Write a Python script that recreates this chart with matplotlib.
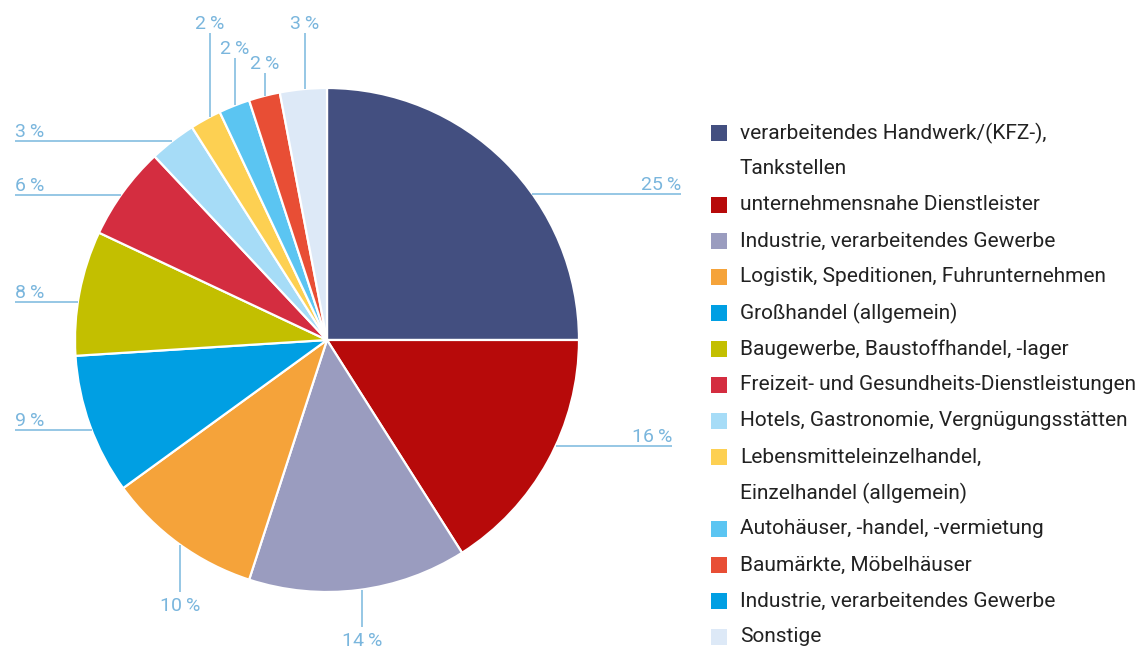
import matplotlib
matplotlib.use("Agg")
import matplotlib.pyplot as plt
from matplotlib.patches import Rectangle
import numpy as np

# ---------------- data ----------------
slice_values = [25, 16, 14, 10, 9, 8, 6, 3, 2, 2, 2, 3]
slice_colors = ["#434f80", "#b70a0a", "#9a9cbf", "#f5a33a", "#009fe3", "#c3bf00",
                "#d42d40", "#a6dcf7", "#fdd052", "#5bc5f2", "#e84e35", "#dde9f7"]
pct_labels = [f"{v}\u2009%" for v in slice_values]

legend_labels = [
    "verarbeitendes Handwerk/(KFZ-),\nTankstellen",
    "unternehmensnahe Dienstleister",
    "Industrie, verarbeitendes Gewerbe",
    "Logistik, Speditionen, Fuhrunternehmen",
    "Großhandel (allgemein)",
    "Baugewerbe, Baustoffhandel, -lager",
    "Freizeit- und Gesundheits-Dienstleistungen",
    "Hotels, Gastronomie, Vergnügungsstätten",
    "Lebensmitteleinzelhandel,\nEinzelhandel (allgemein)",
    "Autohäuser, -handel, -vermietung",
    "Baumärkte, Möbelhäuser",
    "Industrie, verarbeitendes Gewerbe",
    "Sonstige",
]
legend_colors = ["#434f80", "#b70a0a", "#9a9cbf", "#f5a33a", "#009fe3", "#c3bf00",
                 "#d42d40", "#a6dcf7", "#fdd052", "#5bc5f2", "#e84e35", "#009fe3", "#dde9f7"]

# label leader layout (pixel coords, y from top):
# ('h', line_y, outer_x) horizontal line; ('v', line_x, outer_y) vertical line
label_layout = [("h", 194, 681), ("h", 446, 672), ("v", 362, 627), ("v", 180, 592),
                ("h", 430, 15), ("h", 302, 15), ("h", 195, 15), ("h", 141, 15),
                ("v", 210, 33), ("v", 235, 58), ("v", 265, 73), ("v", 305, 33)]

# ---------------- figure ----------------
W, H = 1137, 648
fig = plt.figure(figsize=(W / 100, H / 100), dpi=100)
ax = fig.add_axes([0, 0, 1, 1])
plt.rcParams["font.family"] = ["Roboto", "DejaVu Sans"]

cx, cy, R = 327, 340, 252


def fy(y):
    return H - y


ax.pie(slice_values, colors=slice_colors, startangle=90, counterclock=False,
       center=(cx, fy(cy)), radius=R,
       wedgeprops=dict(edgecolor="white", linewidth=1.6, antialiased=True))
ax.set_aspect("auto")
ax.set_xlim(0, W)
ax.set_ylim(0, H)
ax.axis("off")

line_col = "#8ec3e3"
txt_col = "#7ab6dd"
fs_pct = 14

for (kind, a, b), lab in zip(label_layout, pct_labels):
    if kind == "h":
        dy = a - cy
        dx = np.sqrt(R ** 2 - dy ** 2)
        xe = cx + dx if b > cx else cx - dx
        ax.plot([xe, b], [fy(a), fy(a)], color=line_col, lw=1.3, solid_capstyle="butt")
        ha = "right" if b > cx else "left"
        ax.text(b, fy(a - 4), lab, ha=ha, va="baseline", color=txt_col, fontsize=fs_pct)
    else:
        dx = a - cx
        dy = np.sqrt(R ** 2 - dx ** 2)
        if b < cy:
            ye = cy - dy
            ax.plot([a, a], [fy(ye), fy(b)], color=line_col, lw=1.3, solid_capstyle="butt")
            ax.text(a, fy(b - 4), lab, ha="center", va="baseline", color=txt_col, fontsize=fs_pct)
        else:
            ye = cy + dy
            ax.plot([a, a], [fy(ye), fy(b)], color=line_col, lw=1.3, solid_capstyle="butt")
            ax.text(a, fy(b + 5), lab, ha="center", va="top", color=txt_col, fontsize=fs_pct)

# legend
row_y = 133
row_h = 36
for lab, col in zip(legend_labels, legend_colors):
    ax.add_patch(Rectangle((711, fy(row_y + 8)), 16, 16, facecolor=col, edgecolor="none"))
    for line in lab.split("\n"):
        ax.text(740, fy(row_y), line, ha="left", va="center", color="#222222", fontsize=15)
        row_y += row_h

fig.savefig("out.png", dpi=100)
